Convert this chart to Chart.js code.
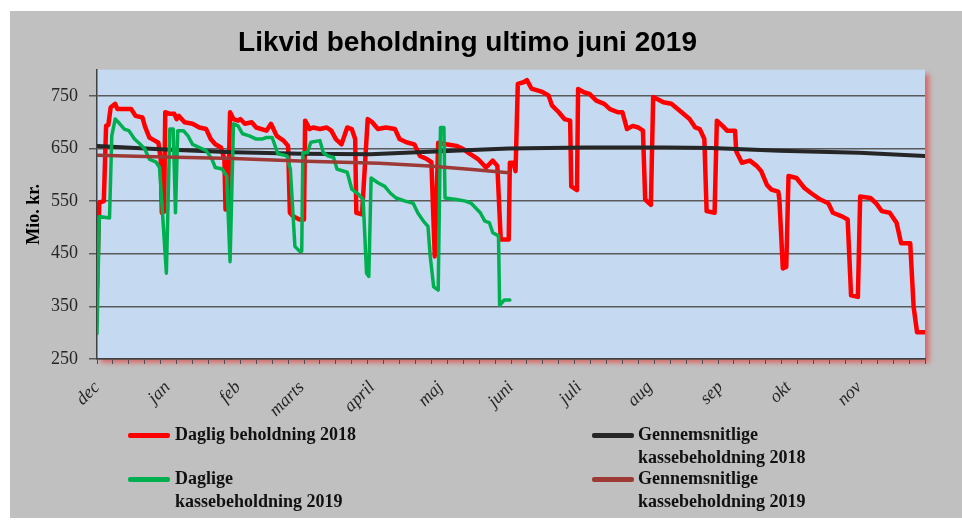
<!DOCTYPE html>
<html>
<head>
<meta charset="utf-8">
<script src="https://cdn.jsdelivr.net/npm/chart.js@4.4.1/dist/chart.umd.min.js"></script>
<style>
  html, body { margin: 0; padding: 0; background: #fff; }
  #wrap { position: relative; width: 962px; height: 520px; }
  .lg-swatch { position: absolute; width: 42px; height: 5px; border-radius: 2px; }
  .lg-text { position: absolute; white-space: pre-line; font: bold 18px "Liberation Serif", serif; line-height: 23px; color: #111; }
</style>
</head>
<body>
<div id="wrap">
  <canvas id="chart" width="962" height="520"></canvas>
  <div id="legend"></div>
</div>
<script>
// x = day number counted from 1 december, y = mio. kr.
const monthLabels = ["dec", "jan", "feb", "marts", "april", "maj", "juni", "juli", "aug", "sep", "okt", "nov"];
const monthStarts = [0, 31, 62, 90, 121, 151, 182, 212, 243, 274, 304, 335];
const yTicks = [250, 350, 450, 550, 650, 750];

const seriesNames = [
  "Daglig beholdning 2018",
  "Gennemsnitlige\nkassebeholdning 2018",
  "Daglige\nkassebeholdning 2019",
  "Gennemsnitlige\nkassebeholdning 2019",
];

const daily2018Days = [0, 1, 3, 4, 5, 6, 8, 9, 15, 17, 20, 21, 23, 25, 27, 28, 28.5, 29.5, 30, 32, 34, 35, 36, 38.5, 42, 45, 48, 50, 52, 54.5, 56, 56.5, 57.5, 58.5, 60, 62, 63, 65, 68, 70, 74.5, 76.5, 79, 82, 84, 84.8, 86, 89, 91, 91.5, 93.5, 95, 98, 101, 103, 105, 107.5, 110, 112, 113.5, 114, 116.5, 119, 121, 123.5, 127, 131, 133, 136, 139.5, 142, 145, 147, 148.5, 150, 153.5, 158, 161, 164, 167.5, 171, 174, 176, 177.5, 181, 181.5, 183, 184, 185, 187.5, 189, 191, 194, 196, 198.5, 200, 203, 205.5, 208, 208.5, 211, 211.5, 214, 216.5, 219.5, 223, 225.5, 229, 231, 233, 235.5, 238, 240, 241, 243.5, 244.5, 249, 252.5, 257, 260.5, 263, 265, 267, 268, 271.5, 272.5, 275, 277, 280.5, 281, 283.5, 287, 290, 292, 294.5, 296.5, 299.5, 300, 301.5, 303, 304, 307.5, 311, 314, 318, 321.5, 323.5, 327.5, 330, 331.5, 334.5, 335.5, 340, 342.5, 345, 348.5, 351.5, 353.5, 357.5, 359, 360.5, 364];
const daily2018Vals = [387, 547, 550, 693, 695, 728, 735, 725, 725, 712, 709, 693, 671, 666, 661, 630, 528, 530, 719, 716, 716, 706, 712, 700, 697, 690, 687, 668, 658, 652, 630, 534, 536, 719, 706, 703, 706, 697, 700, 690, 684, 697, 674, 665, 655, 528, 522, 515, 515, 703, 687, 690, 687, 690, 684, 668, 658, 690, 687, 668, 528, 525, 706, 700, 687, 690, 687, 668, 662, 658, 636, 630, 624, 445, 661, 658, 655, 649, 640, 630, 614, 627, 617, 477, 477, 623, 623, 607, 773, 776, 780, 764, 760, 757, 751, 732, 719, 706, 703, 578, 571, 763, 757, 754, 741, 735, 725, 719, 719, 687, 693, 690, 684, 553, 543, 748, 738, 735, 719, 706, 690, 687, 668, 531, 528, 703, 693, 684, 684, 645, 623, 627, 617, 607, 581, 572, 568, 553, 422, 425, 598, 594, 575, 565, 553, 546, 528, 521, 515, 371, 368, 559, 556, 546, 531, 528, 509, 470, 470, 349, 301, 301];

const avg2018Days = [0, 30, 60, 90, 120, 146, 181, 215, 250, 270, 300, 335, 364];
const avg2018Vals = [655, 648, 643, 640, 639, 644, 650, 652, 652, 651, 646, 642, 636];

const daily2019Days = [0, 1, 5.5, 6.5, 8, 10, 12, 14, 16.5, 19, 21, 23, 26, 27.5, 30.5, 32, 33.5, 34.5, 35.5, 38, 40, 42, 45, 48, 50.5, 52, 55, 57, 58.5, 60, 62, 64, 67, 70, 72.5, 74.5, 77, 79.5, 83.5, 85, 87, 89, 90, 90.5, 92.5, 94, 98, 99.5, 101.5, 104, 105.5, 110, 112, 115, 117, 118.5, 119.5, 120.5, 123.5, 126.5, 129, 131.5, 135.5, 139, 141, 143.5, 145.5, 146.5, 148, 150, 151, 152.5, 153, 158, 162, 164.5, 168.5, 170.5, 172.5, 174, 176.5, 177, 179, 181.5];
const daily2019Vals = [298, 521, 518, 674, 706, 697, 687, 684, 668, 658, 649, 630, 624, 614, 413, 687, 687, 528, 684, 684, 674, 658, 652, 646, 630, 614, 611, 598, 435, 697, 693, 678, 674, 668, 668, 671, 671, 640, 636, 611, 464, 455, 455, 642, 642, 662, 665, 642, 636, 633, 611, 605, 573, 563, 553, 413, 407, 594, 585, 578, 565, 556, 550, 546, 528, 512, 502, 445, 387, 381, 690, 690, 556, 553, 550, 546, 528, 512, 509, 490, 484, 352, 362, 362];

const avg2019Days = [0, 30, 60, 92, 124, 146, 165, 181];
const avg2019Vals = [637, 634, 631, 626, 622, 617, 610, 604];

const seriesColors = ["#ff0000", "#262626", "#00b050", "#9e3a36"];

function pts(days, vals) {
  return days.map((d, i) => ({ x: d, y: vals[i] }));
}

// weekly tick marks on the x axis
const weekTicks = [];
for (let d = 0; d <= 364; d += 7) weekTicks.push(d);

const plotBg = {
  id: "plotBg",
  beforeDraw(chart) {
    const { ctx, chartArea: a, width, height } = chart;
    ctx.save();
    ctx.fillStyle = "#ffffff";
    ctx.fillRect(0, 0, width, height);
    ctx.fillStyle = "#c0c0c0";
    ctx.fillRect(10, 11, width - 10, height - 13);
    ctx.shadowColor = "rgba(225, 70, 70, 0.75)";
    ctx.shadowBlur = 5;
    ctx.shadowOffsetX = 4;
    ctx.shadowOffsetY = 4;
    ctx.fillStyle = "#c5d9f1";
    ctx.fillRect(a.left, a.top, a.right - a.left, a.bottom - a.top);
    ctx.restore();
  },
};

const lineStyle = {
  pointRadius: 0,
  tension: 0,
  borderJoinStyle: "round",
  borderCapStyle: "round",
};

new Chart(document.getElementById("chart"), {
  type: "line",
  data: {
    datasets: [
      { ...lineStyle, label: seriesNames[0], data: pts(daily2018Days, daily2018Vals), borderColor: seriesColors[0], borderWidth: 4.5, order: 4 },
      { ...lineStyle, label: seriesNames[1], data: pts(avg2018Days, avg2018Vals), borderColor: seriesColors[1], borderWidth: 4, order: 3 },
      { ...lineStyle, label: seriesNames[2], data: pts(daily2019Days, daily2019Vals), borderColor: seriesColors[2], borderWidth: 3.5, order: 2 },
      { ...lineStyle, label: seriesNames[3], data: pts(avg2019Days, avg2019Vals), borderColor: seriesColors[3], borderWidth: 3.5, order: 1 },
    ],
  },
  options: {
    responsive: false,
    animation: false,
    layout: { padding: { left: 10, top: 11, right: 37, bottom: 95 } },
    plugins: {
      legend: { display: false },
      tooltip: { enabled: false },
      title: {
        display: true,
        text: "Likvid beholdning ultimo juni 2019",
        color: "#000",
        font: { family: "Liberation Sans", size: 28, weight: "bold" },
        padding: { top: 15, bottom: 10 },
      },
    },
    scales: {
      x: {
        type: "linear",
        min: 0,
        max: 364,
        weight: 0,
        afterBuildTicks: (axis) => { axis.ticks = weekTicks.map((v) => ({ value: v })); },
        afterFit: (axis) => { axis.height = 6; },
        grid: { drawOnChartArea: false, tickLength: 5, color: "#505050", lineWidth: 1 },
        border: { color: "#404040", width: 1.5 },
        ticks: { display: false },
      },
      x2: {
        type: "linear",
        position: "bottom",
        min: 0,
        max: 364,
        weight: 1,
        afterBuildTicks: (axis) => { axis.ticks = monthStarts.map((v) => ({ value: v })); },
        afterFit: (axis) => { axis.height = 60; },
        grid: { display: false, drawTicks: false },
        border: { display: false },
        ticks: {
          autoSkip: false,
          maxRotation: 45,
          minRotation: 45,
          padding: 12,
          color: "#262626",
          font: { family: "Liberation Serif", size: 18, style: "italic" },
          callback: (v, i) => monthLabels[i],
        },
      },
      y: {
        min: 250,
        max: 800,
        afterBuildTicks: (axis) => { axis.ticks = yTicks.map((v) => ({ value: v })); },
        afterFit: (axis) => { axis.width = 87; },
        grid: { color: "#5a5a5a", lineWidth: 1.5, tickLength: 8 },
        border: { color: "#404040", width: 1.5 },
        ticks: { color: "#262626", padding: 11, font: { family: "Liberation Serif", size: 18 } },
        title: {
          display: true,
          text: "Mio. kr.",
          color: "#000",
          font: { family: "Liberation Serif", size: 18, weight: "bold" },
          padding: { top: 14, bottom: 0 },
        },
      },
    },
  },
  plugins: [plotBg],
});

// legend in two columns, like the original
const legendSpots = [
  { sx: 128, tx: 175, y: 435 },
  { sx: 592, tx: 638, y: 435 },
  { sx: 128, tx: 175, y: 479 },
  { sx: 592, tx: 638, y: 479 },
];
const legend = document.getElementById("legend");
seriesNames.forEach((name, i) => {
  const s = legendSpots[i];
  const sw = document.createElement("div");
  sw.className = "lg-swatch";
  sw.style.left = s.sx + "px";
  sw.style.top = s.y - 2 + "px";
  sw.style.background = seriesColors[i];
  legend.appendChild(sw);
  const tx = document.createElement("div");
  tx.className = "lg-text";
  tx.style.left = s.tx + "px";
  tx.style.top = s.y - 12 + "px";
  tx.textContent = name;
  legend.appendChild(tx);
});
</script>
</body>
</html>
